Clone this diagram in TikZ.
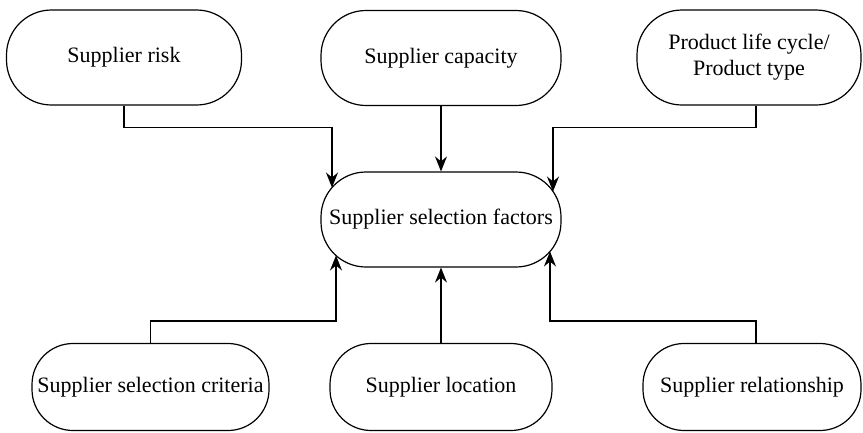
\documentclass[tikz,border=0pt]{standalone}
\usepackage{fontspec}
\setmainfont{Liberation Serif}
\usetikzlibrary{arrows.meta,calc}
\begin{document}
\begin{tikzpicture}[x=1pt,y=-1pt,
  box/.style={draw, rectangle, rounded corners=45pt, minimum height=95pt, inner sep=2pt,
    line width=1.2pt, align=center, font=\fontsize{22}{26}\selectfont},
  lowbox/.style={box, rounded corners=41pt, minimum height=87pt},
  arr/.style={line width=1.2pt, -{Stealth[length=15pt,width=12pt,inset=5pt]}}]
\useasboundingbox (0,0) rectangle (863,432);
% top row
\node[box, minimum width=235pt] (risk) at (124,57.5) {Supplier risk};
\node[box, minimum width=240pt] (cap) at (441,58) {Supplier capacity};
\node[box, minimum width=224pt] (plc) at (749,57.5) {Product life cycle/\\Product type};
% centre
\node[box, minimum width=240pt] (c) at (441,219.5) {Supplier selection factors};
% bottom row
\node[lowbox, minimum width=237pt] (crit) at (150.5,387) {Supplier selection criteria};
\node[lowbox, minimum width=222pt] (loc) at (441,387) {Supplier location};
\node[lowbox, minimum width=218pt] (rel) at (752,387) {Supplier relationship};
% arrow tip points on the centre node's border
\coordinate (t1) at ($(c.center)+(-109,-32)$);
\coordinate (t2) at ($(c.center)+(112,-28)$);
\coordinate (t3) at ($(c.center)+(-105,36)$);
\coordinate (t4) at ($(c.center)+(109,32)$);
\coordinate (p1) at ($(plc.south)+(7,0)$);
\coordinate (r1) at ($(rel.north)+(4,0)$);
% connectors
\draw[arr] (risk.south) -- ++(0,22) -| (t1);
\draw[arr] (cap.south) -- (c.north);
\draw[arr] (p1) -- ++(0,22) -| (t2);
\draw[arr] (crit.north) -- ++(0,-22) -| (t3);
\draw[arr] (loc.north) -- (c.south);
\draw[arr] (r1) -- ++(0,-22) -| (t4);
\end{tikzpicture}
\end{document}
